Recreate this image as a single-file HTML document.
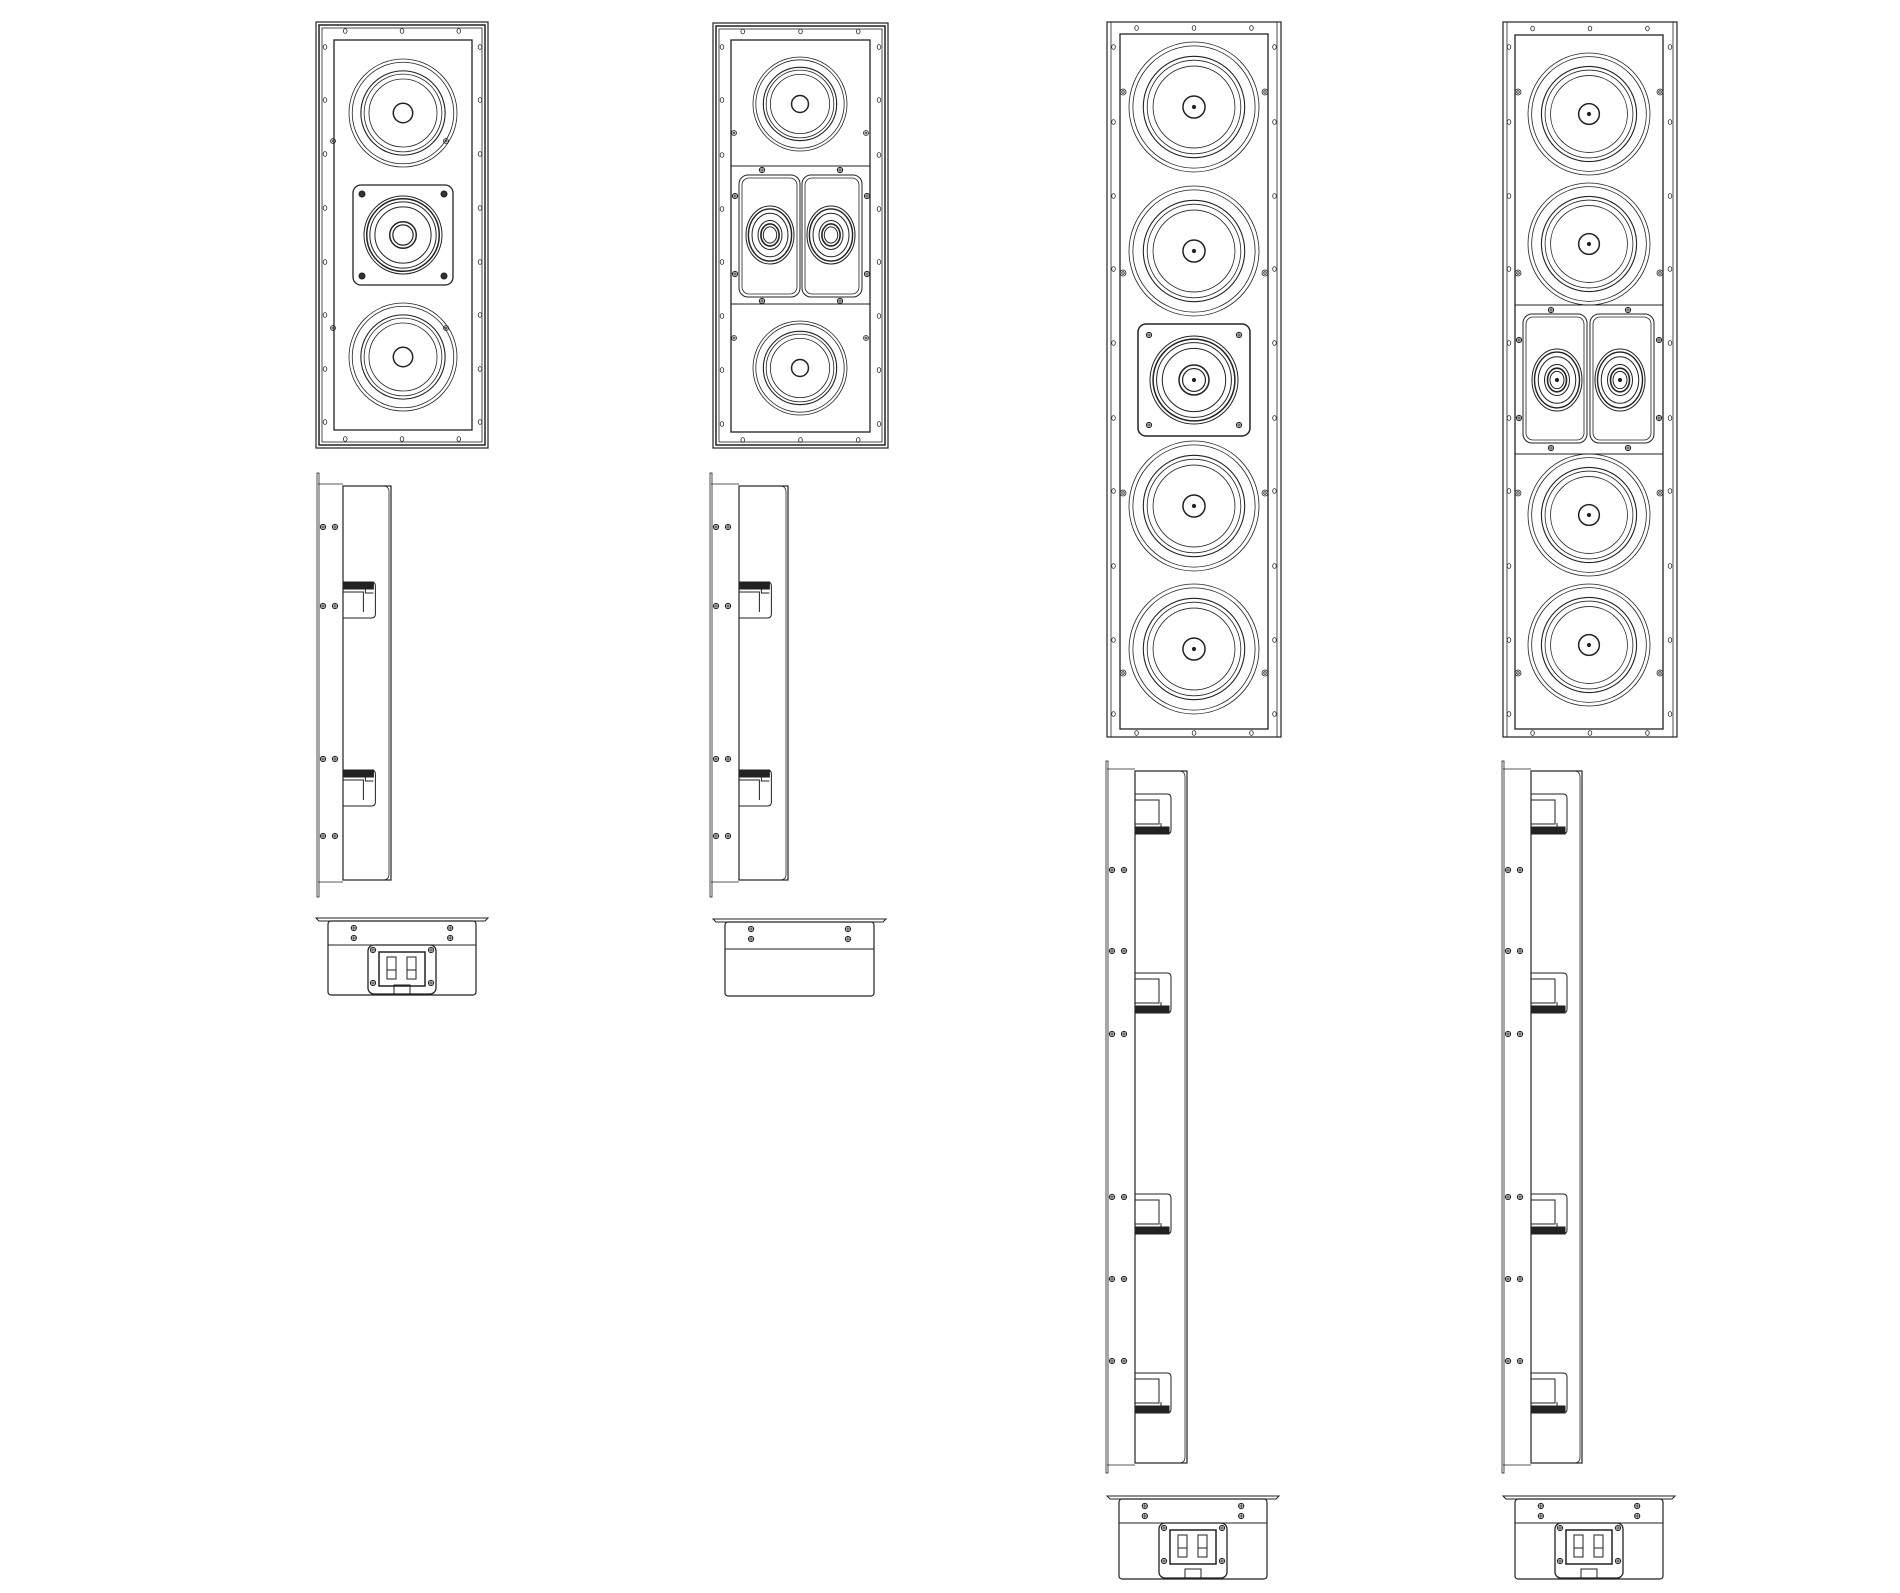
<!DOCTYPE html>
<html><head><meta charset="utf-8"><style>html,body{margin:0;padding:0;background:#fff}svg{display:block}</style></head>
<body>
<svg id="s" xmlns="http://www.w3.org/2000/svg" width="1900" height="1593" viewBox="0 0 1900 1593" fill="none" stroke="#222" stroke-width="1"></svg>
<script>
var o='';
function R(x,y,w,h,rx,sw,fill){o+='<rect x="'+x+'" y="'+y+'" width="'+w+'" height="'+h+'"'+(rx?' rx="'+rx+'"':'')+(sw?' stroke-width="'+sw+'"':'')+(fill?' fill="'+fill+'"':'')+'/>';}
function C(x,y,r,sw,fill){o+='<circle cx="'+x+'" cy="'+y+'" r="'+r+'"'+(sw?' stroke-width="'+sw+'"':'')+(fill?' fill="'+fill+'"':'')+'/>';}
function E(x,y,rx,ry,sw){o+='<ellipse cx="'+x+'" cy="'+y+'" rx="'+rx+'" ry="'+ry+'"'+(sw?' stroke-width="'+sw+'"':'')+'/>';}
function L(a,b,c,d,sw){o+='<line x1="'+a+'" y1="'+b+'" x2="'+c+'" y2="'+d+'"'+(sw?' stroke-width="'+sw+'"':'')+'/>';}
function hole(x,y){E(x,y,1.8,2.4,0.8);}
function screw(x,y){C(x,y,2.6,1);L(x-2.6,y,x+2.6,y,0.8);L(x,y-2.6,x,y+2.6,0.8);}
function woofer(x,y,r,big){C(x,y,r,0.8);C(x,y,r*0.94,0.8);C(x,y,r*0.78,1.1);C(x,y,r*0.72,0.8);C(x,y,r*0.63,0.8);C(x,y,big?r*0.17:r*0.18,1.5);if(big)C(x,y,1.6,0,'#222');}
function tweet(x,y,r,dot){C(x,y,r);C(x,y,r*0.93,1.5);C(x,y,r*0.85);C(x,y,r*0.72);C(x,y,r*0.34,1.5);C(x,y,r*0.26,1.2);if(dot)C(x,y,1.6,0,'#222');}
function oval(x,y,rx,ry,dot){E(x,y,rx,ry);E(x,y,rx*0.9,ry*0.9,1.4);E(x,y,rx*0.75,ry*0.75);E(x,y,rx*0.5,ry*0.5);E(x,y,rx*0.38,ry*0.38,1.6);E(x,y,rx*0.28,ry*0.28);if(dot)C(x,y,1.6,0,'#222');}
function frame(x1,y1,x2,y2,ix1,iy1,ix2,iy2,bevel,holesY){
 R(x1,y1,x2-x1,y2-y1,0,1.2);
 if(bevel){R(x1+3,y1+3,x2-x1-6,y2-y1-6,0,1.5);R(x1+6,y1+6,x2-x1-12,y2-y1-12,0,0.8);}
 else{L(x1+4,y1,x1+4,y2,0.8);L(x2-4,y1,x2-4,y2,0.8);}
 R(ix1,iy1,ix2-ix1,iy2-iy1,0,1.3);
 var cx=(x1+x2)/2,dx=(x2-x1)*0.33;
 [cx-dx,cx,cx+dx].forEach(function(h){hole(h,(y1+iy1)/2);hole(h,(y2+iy2)/2);});
 holesY.forEach(function(h){hole((x1+ix1)/2,h);hole((x2+ix2)/2,h);});
}
frame(316,22,488,448,334,40,472,430,1,[47,100,154,208,262,315,369,422]);
woofer(403,113,54,0);woofer(403,357,54,0);
R(353,185,100,100,8,1.3);tweet(403,235,39,0);
[[362,194],[444,194],[362,276],[444,276]].forEach(function(p){C(p[0],p[1],3,0,'#333');});
[[333,141],[446,141],[333,328],[446,328]].forEach(function(p){C(p[0],p[1],2.5,0.8);C(p[0],p[1],1,0.8);});
frame(713,23,888,448,731,40,870,432,1,[47,100,155,209,262,316,370,424]);
L(731,166,870,166);L(731,304,870,304);
woofer(800,104,47,0);woofer(800,368,47,0);
R(739,175,61,122,9,1);R(742,178,55,116,7,0.8);R(802,175,60,122,9,1);R(805,178,54,116,7,0.8);
oval(770,235,24,29,0);oval(831,235,24,29,0);
[[762,170],[840,170],[762,301],[840,301],[735,196],[867,196],[735,274],[867,274]].forEach(function(p){screw(p[0],p[1]);});
[[734,133],[866,133],[734,338],[866,338]].forEach(function(p){C(p[0],p[1],2.5,0.8);C(p[0],p[1],1,0.8);});
frame(1107,22,1281,737,1120,34,1268,729,0,[47,122,196,269,343,418,491,566,640,714]);
[107,251,506,649].forEach(function(y){woofer(1194,y,65,1);});
R(1138,324,112,112,8,1.5);tweet(1194,380,44,1);
[[1149,335],[1239,335],[1149,425],[1239,425]].forEach(function(p){screw(p[0],p[1]);});
[[1123,92],[1265,92],[1123,273],[1265,273],[1123,493],[1265,493],[1123,673],[1265,673]].forEach(function(p){C(p[0],p[1],3,0.8);C(p[0],p[1],1.3,0.8);});
frame(1503,22,1677,737,1515,35,1663,729,0,[47,122,196,269,343,418,491,566,640,714]);
L(1515,305,1663,305);L(1515,454,1663,454);
[114,244,515,645].forEach(function(y){woofer(1589,y,61,1);});
R(1523,314,64,129,9,1);R(1526,317,58,123,7,0.8);R(1590,314,64,129,9,1);R(1593,317,58,123,7,0.8);
oval(1557,380,25,31,1);oval(1620,380,25,31,1);
[[1551,310],[1628,310],[1551,448],[1628,448],[1519,340],[1659,340],[1519,418],[1659,418]].forEach(function(p){screw(p[0],p[1]);});
[[1518,92],[1660,92],[1518,273],[1660,273],[1518,493],[1660,493],[1518,673],[1660,673]].forEach(function(p){C(p[0],p[1],3,0.8);C(p[0],p[1],1.3,0.8);});
function bracket(x,y,h,flip){
 var w=h*0.9;
 if(!flip){R(x,y,w-2,7,0,0,'#222');o+='<path d="M'+x+' '+y+' h'+(w-4)+' q4 0 4 4 v'+(h-8)+' q0 4 -4 4 h-'+(w-4)+' M'+x+' '+(y+10)+' h'+(w-12)+' v'+(h-16)+' M'+(x+w-10)+' '+(y+3)+' v8 h8"/>';}
 else{R(x,y+h-7,w-2,7,0,0,'#222');o+='<path d="M'+x+' '+y+' h'+(w-4)+' q4 0 4 4 v'+(h-8)+' q0 4 -4 4 h-'+(w-4)+' M'+x+' '+(y+6)+' h'+(w-12)+' v'+(h-16)+' h-'+(w-12)+' M'+(x+w-10)+' '+(y+h-11)+' v8 h8"/>';}
}
function side(fx,y1,y2,bx1,bx2,by1,by2,br,sc,flip){
 R(fx-1,y1,2,y2-y1,0,0.8);L(fx,by1-2,bx1,by1-2,0.8);L(fx,by2+2,bx1,by2+2,0.8);
 R(bx1,by1,bx2-bx1,by2-by1,0,1.2);o+='<path d="M'+(bx2-8)+' '+by1+' q6 0 6 6 v'+(by2-by1-12)+' q0 6 -6 6" stroke-width="0.8"/>';
 br.forEach(function(y){bracket(bx1,y,br.h||38,flip);});
 sc.forEach(function(y){screw(fx+5,y);screw(fx+17,y);});
}
var b1=[582,770];b1.h=36;side(318,473,897,343,391,486,880,b1,[527,606,759,836],0);
var b2=[582,770];b2.h=36;side(711,473,897,739,788,486,880,b2,[527,606,759,836],0);
var b3=[794,973,1194,1373];b3.h=40;side(1107,761,1473,1135,1187,771,1463,b3,[870,951,1034,1197,1279,1361],1);
var b4=[794,973,1194,1373];b4.h=40;side(1503,761,1473,1531,1582,771,1463,b4,[870,951,1034,1197,1279,1361],1);
function bottom(x1,x2,y,h,term,ly){
 o+='<path d="M'+x1+' '+y+' h'+(x2-x1)+' l-3 3 h-'+(x2-x1-6)+' z"/>';
 R(x1+12,y+3,x2-x1-24,h,3,1.2);L(x1+12,ly,x2-12,ly,1);
 var a=x1+(x2-x1)*0.22,b=x2-(x2-x1)*0.22;
 screw(a,y+10);screw(b,y+10);screw(a,y+20);screw(b,y+20);
 if(term){var tx=(x1+x2)/2-34,ty=ly,th=h-(ly-y)+2;
  R(tx,ty,68,th,6,1.3);R(tx+11,ty+7,46,34,0,1.5);
  R(tx+19,ty+12,9,22,0,1);R(tx+39,ty+12,9,22,0,1);L(tx+19,ty+25,tx+28,ty+25);L(tx+39,ty+25,tx+48,ty+25);
  R(tx+26,ty+th-9,16,9,0,1);
  screw(tx+5,ty+5);screw(tx+63,ty+5);screw(tx+5,ty+38);screw(tx+63,ty+38);}
}
bottom(316,488,918,74,1,945);
bottom(713,886,919,74,0,949);
bottom(1107,1279,1496,80,1,1523);
bottom(1503,1675,1496,80,1,1523);
document.getElementById('s').innerHTML=o;
</script>
</body></html>
